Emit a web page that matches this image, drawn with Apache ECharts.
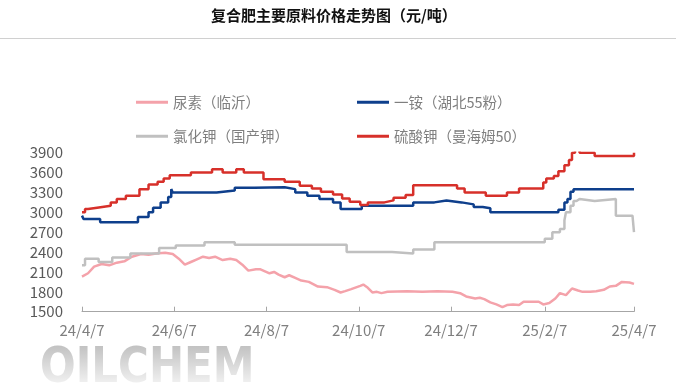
<!DOCTYPE html>
<html><head><meta charset="utf-8">
<script src="https://cdn.jsdelivr.net/npm/echarts@6/dist/echarts.min.js"></script>
<style>html,body{margin:0;padding:0;background:#fff}#c{width:676px;height:390px}</style>
</head><body><div id="c"></div>
<script>
const titleText = '复合肥主要原料价格走势图（元/吨）';
const seriesNames = ['尿素（临沂）', '一铵（湖北55粉）', '氯化钾（国产钾）', '硫酸钾（曼海姆50）'];
const seriesColors = ['#f4a2aa', '#0e3f8c', '#c0c0c0', '#d7302a'];
const tickDates = ['2024-04-07', '2024-06-07', '2024-08-07', '2024-10-07', '2024-12-07', '2025-02-07', '2025-04-07'];
const tickLabels = ['24/4/7', '24/6/7', '24/8/7', '24/10/7', '24/12/7', '25/2/7', '25/4/7'];
const yMin = 1500, yMax = 3900, yStep = 300;

// 尿素（临沂）
const ureaDates = ['2024-04-07','2024-04-11','2024-04-15','2024-04-20','2024-04-25','2024-04-30','2024-05-05','2024-05-10','2024-05-16','2024-05-21','2024-05-26','2024-06-01','2024-06-06','2024-06-10','2024-06-14','2024-06-18','2024-06-22','2024-06-26','2024-06-30','2024-07-04','2024-07-09','2024-07-14','2024-07-18','2024-07-22','2024-07-26','2024-07-31','2024-08-03','2024-08-06','2024-08-09','2024-08-12','2024-08-15','2024-08-19','2024-08-22','2024-08-26','2024-08-30','2024-09-04','2024-09-10','2024-09-16','2024-09-21','2024-09-25','2024-09-28','2024-10-02','2024-10-08','2024-10-10','2024-10-13','2024-10-16','2024-10-19','2024-10-22','2024-10-26','2024-11-08','2024-11-18','2024-11-28','2024-12-08','2024-12-13','2024-12-17','2024-12-23','2024-12-26','2024-12-29','2025-01-02','2025-01-06','2025-01-10','2025-01-13','2025-01-17','2025-01-21','2025-01-24','2025-02-03','2025-02-06','2025-02-10','2025-02-14','2025-02-17','2025-02-21','2025-02-25','2025-03-01','2025-03-04','2025-03-09','2025-03-13','2025-03-18','2025-03-22','2025-03-26','2025-03-30','2025-04-04','2025-04-07'];
const ureaValues = [2030,2080,2180,2220,2200,2240,2260,2330,2370,2360,2380,2390,2370,2300,2210,2250,2290,2330,2310,2330,2280,2300,2280,2210,2120,2140,2140,2110,2080,2100,2060,2020,2050,2010,1970,1950,1880,1870,1830,1790,1810,1840,1890,1910,1860,1790,1800,1780,1800,1810,1800,1810,1800,1780,1730,1700,1710,1690,1640,1610,1570,1600,1610,1600,1650,1650,1610,1630,1700,1780,1750,1850,1820,1800,1800,1810,1830,1880,1890,1950,1940,1920];

// 一铵（湖北55粉）
const mapDates = ['2024-04-07','2024-04-08','2024-04-19','2024-05-14','2024-05-21','2024-05-24','2024-05-29','2024-06-03','2024-06-05','2024-06-06','2024-07-05','2024-07-17','2024-07-30','2024-07-31','2024-08-19','2024-08-26','2024-09-03','2024-09-11','2024-09-20','2024-09-25','2024-10-09','2024-11-12','2024-11-26','2024-12-04','2024-12-14','2024-12-22','2024-12-28','2025-01-02','2025-02-16','2025-02-20','2025-02-22','2025-02-24','2025-02-26','2025-04-07'];
const mapValues = [2950,2900,2850,2930,3000,3070,3150,3230,3350,3300,3330,3370,3400,3380,3350,3300,3250,3200,3150,3050,3100,3150,3180,3150,3120,3080,3060,3000,3040,3150,3200,3310,3350,3350];

// 氯化钾（国产钾）
const kclDates = ['2024-04-07','2024-04-09','2024-04-18','2024-04-27','2024-05-09','2024-05-28','2024-06-08','2024-06-27','2024-07-17','2024-09-29','2024-10-29','2024-11-12','2024-11-26','2025-02-07','2025-02-12','2025-02-17','2025-02-20','2025-02-21','2025-02-24','2025-02-26','2025-02-28','2025-03-02','2025-03-12','2025-03-26','2025-04-06','2025-04-07'];
const kclValues = [2200,2300,2250,2320,2380,2460,2500,2550,2510,2400,2380,2440,2550,2600,2700,2750,2880,3000,3100,3170,3200,3170,3200,2950,2950,2700];

// 硫酸钾（曼海姆50）
const sopDates = ['2024-04-07','2024-04-09','2024-04-11','2024-04-17','2024-04-26','2024-04-30','2024-05-06','2024-05-15','2024-05-21','2024-05-27','2024-05-31','2024-06-04','2024-06-18','2024-07-02','2024-07-09','2024-07-18','2024-07-23','2024-08-05','2024-08-19','2024-08-29','2024-09-06','2024-09-12','2024-09-20','2024-09-26','2024-10-01','2024-10-08','2024-10-13','2024-10-24','2024-10-30','2024-11-07','2024-11-12','2024-12-11','2024-12-16','2024-12-30','2025-01-13','2025-01-21','2025-02-06','2025-02-08','2025-02-13','2025-02-16','2025-02-20','2025-02-23','2025-02-25','2025-02-27','2025-03-02','2025-03-12','2025-04-07'];
const sopValues = [3000,3050,3070,3100,3150,3200,3250,3350,3420,3460,3510,3560,3600,3650,3600,3650,3600,3500,3460,3400,3360,3310,3270,3210,3160,3110,3150,3180,3220,3260,3410,3360,3300,3250,3300,3360,3450,3510,3550,3620,3710,3790,3900,3950,3900,3850,3900];

const ts = d => { const p = d.split('-').map(Number); return Date.UTC(p[0], p[1] - 1, p[2]); };
const pairs = (ds, vs) => ds.map((d, i) => [ts(d), vs[i]]);
const tickValues = tickDates.map(ts);

const chart = echarts.init(document.getElementById('c'), null, {renderer: 'canvas'});
const FONT = '"Noto Sans CJK SC", "Noto Sans", sans-serif';

const mkSeries = (name, color, data, step) => ({
  name, type: 'line', data, step: step ? 'end' : false,
  showSymbol: false, symbol: 'none', smooth: false,
  lineStyle: {color, width: 2.5}, itemStyle: {color},
  animation: false
});

const legendPos = [[136, 95], [357, 95], [136, 129], [357, 129]];

chart.setOption({
  backgroundColor: '#fff',
  animation: false,
  textStyle: {fontFamily: FONT},
  graphic: [
    {type: 'text', left: 332 - 121, top: 8, style: {text: titleText, fill: '#111', font: 'bold 15px ' + FONT}},
    {type: 'line', shape: {x1: 0, y1: 38.5, x2: 676, y2: 38.5}, style: {stroke: '#d0d0d0', lineWidth: 1}},
    {type: 'text', x: 40, y: 344, scaleX: 0.84, z: 1, style: {text: 'OILCHEM', font: 'bold 50px "DejaVu Sans"', fill: '#c2c2c2'}},
    {type: 'rect', shape: {x: 30, y: 346, width: 240, height: 44}, z: 2,
      style: {fill: new echarts.graphic.LinearGradient(0, 0, 0, 1, [
        {offset: 0, color: 'rgba(255,255,255,0)'}, {offset: 1, color: 'rgba(255,255,255,0.9)'}])}}
  ],
  legend: seriesNames.map((n, i) => ({
    data: [n], left: legendPos[i][0], top: legendPos[i][1], padding: 0,
    icon: 'rect', itemWidth: 32, itemHeight: 3,
    textStyle: {color: '#7f7f7f', fontSize: 14.5, fontFamily: FONT}
  })),
  grid: {left: 82, right: 42, top: 152.7, bottom: 78.3},
  xAxis: {
    type: 'value', min: tickValues[0], max: tickValues[tickValues.length - 1],
    splitLine: {show: false},
    axisLine: {lineStyle: {color: '#a6a6a6', width: 1}},
    axisTick: {show: true, inside: true, length: 5, lineStyle: {color: '#a6a6a6'}, customValues: tickValues},
    axisLabel: {customValues: tickValues, color: '#7f7f7f', fontSize: 15, margin: 11, fontFamily: FONT,
      formatter: v => { const i = tickValues.indexOf(v); return i >= 0 ? tickLabels[i] : ''; }}
  },
  yAxis: {
    type: 'value', min: yMin, max: yMax, interval: yStep,
    splitLine: {show: false}, axisLine: {show: false}, axisTick: {show: false},
    axisLabel: {color: '#595959', fontSize: 15, margin: 19, fontFamily: FONT, formatter: v => String(v)}
  },
  series: [
    mkSeries(seriesNames[0], seriesColors[0], pairs(ureaDates, ureaValues), false),
    mkSeries(seriesNames[1], seriesColors[1], pairs(mapDates, mapValues), true),
    mkSeries(seriesNames[2], seriesColors[2], pairs(kclDates, kclValues), true),
    mkSeries(seriesNames[3], seriesColors[3], pairs(sopDates, sopValues), true)
  ]
});
</script></body></html>
